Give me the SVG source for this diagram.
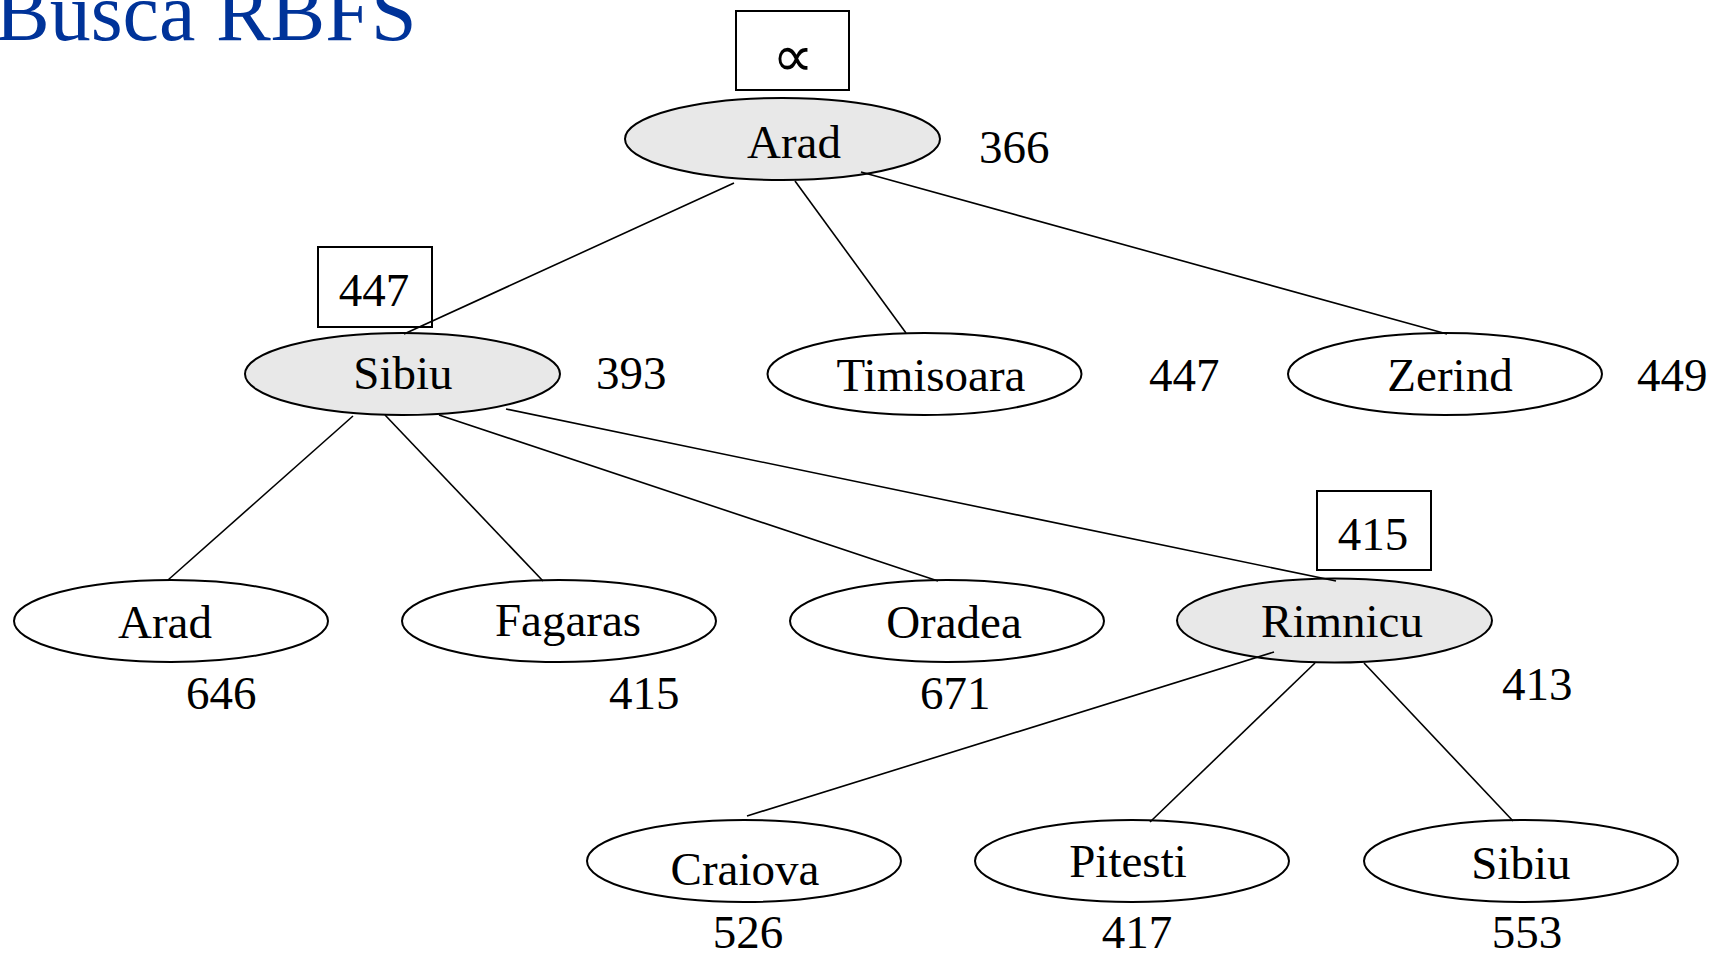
<svg xmlns="http://www.w3.org/2000/svg" width="1715" height="956" viewBox="0 0 1715 956">
  <style>
    .node { fill: #ffffff; stroke: #000000; stroke-width: 2; }
    .open { fill: #e8e8e8; }
    .lbl { font-family: "Liberation Serif", "Times New Roman", serif; font-size: 47px; fill: #000000; text-anchor: middle; }
    .val { font-family: "Liberation Serif", "Times New Roman", serif; font-size: 47px; fill: #000000; }
    .sym { font-family: "DejaVu Sans", sans-serif; font-size: 58px; fill: #000000; text-anchor: middle; }
    .box { fill: #ffffff; stroke: #000000; stroke-width: 2; }
    .edge { stroke: #000000; stroke-width: 1.6; fill: none; }
    .title { font-family: "Liberation Serif", "Times New Roman", serif; font-size: 82px; fill: #003399; }
  </style>
  <rect width="1715" height="956" fill="#ffffff"/>

  <text class="title" x="-5" y="40">Busca RBFS</text>

  <!-- root -->
  <g id="node-arad-root">
    <rect class="box" x="736" y="11" width="113" height="79"/>
    <text class="sym" x="793" y="76">∝</text>
    <ellipse class="node open" cx="782.5" cy="139" rx="157.5" ry="41"/>
    <text class="lbl" x="794" y="158">Arad</text>
    <text class="val" x="979" y="163">366</text>
  </g>

  <!-- depth 1 -->
  <g id="node-sibiu">
    <rect class="box" x="318" y="247" width="114" height="80"/>
    <text class="lbl" x="374" y="306">447</text>
    <ellipse class="node open" cx="402.5" cy="374" rx="157.5" ry="41"/>
    <text class="lbl" x="403" y="389">Sibiu</text>
    <text class="val" x="596" y="389">393</text>
  </g>
  <g id="node-timisoara">
    <ellipse class="node" cx="924.5" cy="374" rx="157" ry="41"/>
    <text class="lbl" x="931" y="391">Timisoara</text>
    <text class="val" x="1149" y="391">447</text>
  </g>
  <g id="node-zerind">
    <ellipse class="node" cx="1445" cy="374" rx="157" ry="41"/>
    <text class="lbl" x="1450" y="391">Zerind</text>
    <text class="val" x="1637" y="391">449</text>
  </g>

  <!-- depth 2 -->
  <g id="node-arad">
    <ellipse class="node" cx="171" cy="621" rx="157" ry="41"/>
    <text class="lbl" x="165" y="638">Arad</text>
    <text class="val" x="186" y="709">646</text>
  </g>
  <g id="node-fagaras">
    <ellipse class="node" cx="559" cy="621" rx="157" ry="41"/>
    <text class="lbl" x="568" y="636">Fagaras</text>
    <text class="val" x="609" y="709">415</text>
  </g>
  <g id="node-oradea">
    <ellipse class="node" cx="947" cy="621" rx="157" ry="41"/>
    <text class="lbl" x="954" y="638">Oradea</text>
    <text class="val" x="920" y="709">671</text>
  </g>
  <g id="node-rimnicu">
    <rect class="box" x="1317" y="491" width="114" height="79"/>
    <text class="lbl" x="1373" y="550">415</text>
    <ellipse class="node open" cx="1334.5" cy="620.5" rx="157.5" ry="42"/>
    <text class="lbl" x="1342" y="637">Rimnicu</text>
    <text class="val" x="1502" y="700">413</text>
  </g>

  <!-- depth 3 -->
  <g id="node-craiova">
    <ellipse class="node" cx="744" cy="861" rx="157" ry="41"/>
    <text class="lbl" x="745" y="885">Craiova</text>
    <text class="lbl" x="748" y="948">526</text>
  </g>
  <g id="node-pitesti">
    <ellipse class="node" cx="1132" cy="861" rx="157" ry="41"/>
    <text class="lbl" x="1128" y="877">Pitesti</text>
    <text class="lbl" x="1137" y="948">417</text>
  </g>
  <g id="node-sibiu-2">
    <ellipse class="node" cx="1521" cy="861" rx="157" ry="41"/>
    <text class="lbl" x="1521" y="879">Sibiu</text>
    <text class="lbl" x="1527" y="948">553</text>
  </g>

  <!-- tree edges, drawn over the node outlines -->
  <g id="connectors">
    <line class="edge" x1="734" y1="183" x2="404" y2="334"/>
    <line class="edge" x1="795" y1="181" x2="906" y2="333"/>
    <line class="edge" x1="861" y1="172" x2="1447" y2="334"/>
    <line class="edge" x1="353" y1="416" x2="168" y2="580"/>
    <line class="edge" x1="385" y1="415" x2="543" y2="581"/>
    <line class="edge" x1="439" y1="415" x2="938" y2="581"/>
    <line class="edge" x1="506" y1="409" x2="1336" y2="581"/>
    <line class="edge" x1="1274" y1="652" x2="747" y2="816"/>
    <line class="edge" x1="1315" y1="663" x2="1150" y2="822"/>
    <line class="edge" x1="1364" y1="663" x2="1513" y2="821"/>
  </g>
</svg>
